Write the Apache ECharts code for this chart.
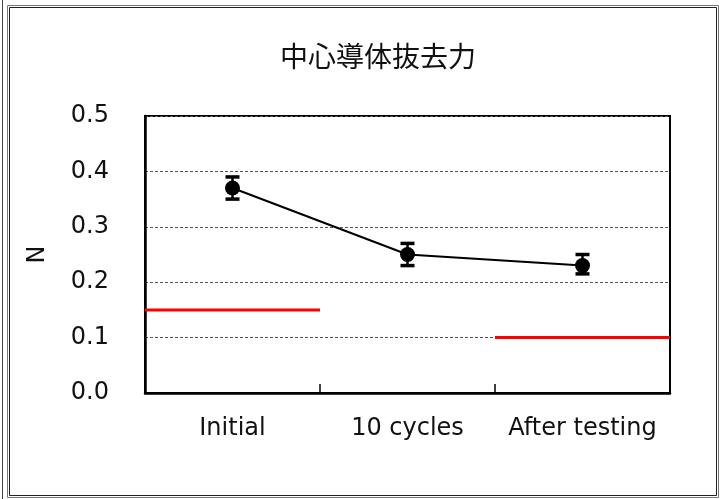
<!DOCTYPE html>
<html>
<head>
<meta charset="utf-8">
<script src="https://cdn.jsdelivr.net/npm/echarts@6/dist/echarts.min.js"></script>
<style>
html,body{margin:0;padding:0;background:#fff;}
#main{width:728px;height:499px;}
</style>
</head>
<body>
<div id="main"></div>
<script>
var categories = ['Initial', '10 cycles', 'After testing'];
var means = [0.37, 0.25, 0.23];
var errLow = [0.35, 0.23, 0.215];
var errHigh = [0.39, 0.27, 0.25];
var specInitial = [[0, 0.15], [1, 0.15]];
var specAfter = [[2, 0.10], [3, 0.10]];
var yTicks = ['0.0', '0.1', '0.2', '0.3', '0.4', '0.5'];

var chart = echarts.init(document.getElementById('main'));
var errData = categories.map(function (c, i) { return [i, errLow[i], errHigh[i]]; });

chart.setOption({
  animation: false,
  backgroundColor: '#fff',
  title: {
    text: '中心導体抜去力',
    left: 373, top: 37, textAlign: 'center',
    textStyle: { fontFamily: 'Noto Sans CJK JP', fontSize: 28, fontWeight: 'normal', color: '#111' }
  },
  graphic: [
    { type: 'rect', shape: { x: 7.5, y: 5.5, width: 711, height: 492 }, style: { fill: 'none', stroke: '#777', lineWidth: 1 } },
    { type: 'rect', shape: { x: 9.5, y: 7.5, width: 707, height: 488 }, style: { fill: 'none', stroke: '#222', lineWidth: 1 } },
    { type: 'line', shape: { x1: 2.5, y1: 0, x2: 2.5, y2: 499 }, style: { stroke: '#444', lineWidth: 1 } }
  ],
  grid: { left: 145, top: 116, width: 525, height: 277, show: true, borderColor: '#000', borderWidth: 2, backgroundColor: 'transparent' },
  xAxis: [
    {
      type: 'category', data: categories, boundaryGap: true,
      axisLine: { lineStyle: { color: '#000', width: 2.5 } },
      axisTick: { show: true, inside: true, interval: 0, length: 9, lineStyle: { color: '#000', width: 1.5 } },
      axisLabel: { interval: 0, hideOverlap: false, fontFamily: 'DejaVu Sans', fontSize: 24, color: '#111', margin: 24 }
    },
    { type: 'value', min: 0, max: 3, show: false }
  ],
  yAxis: {
    type: 'value', min: 0, max: 0.5, interval: 0.1,
    name: 'N', nameLocation: 'middle', nameGap: 95, nameRotate: 90,
    nameTextStyle: { fontFamily: 'DejaVu Sans', fontSize: 24, color: '#111' },
    axisLine: { show: true, lineStyle: { color: '#000', width: 2.5 } },
    axisTick: { show: false },
    axisLabel: {
      fontFamily: 'DejaVu Sans', fontSize: 24, color: '#111', margin: 36,
      formatter: function (v) { return yTicks[Math.round(v * 10)]; }
    },
    splitLine: { show: true, lineStyle: { color: '#555', type: [3, 2], width: 1 } }
  },
  series: [
    {
      type: 'line', xAxisIndex: 1, data: specInitial, symbol: 'none',
      lineStyle: { color: '#ff0000', width: 3 }, z: 3
    },
    {
      type: 'line', xAxisIndex: 1, data: specAfter, symbol: 'none',
      lineStyle: { color: '#ff0000', width: 3 }, z: 3
    },
    {
      type: 'custom', xAxisIndex: 0, data: errData, z: 4,
      renderItem: function (params, api) {
        var x = api.value(0);
        var lo = api.coord([x, api.value(1)]);
        var hi = api.coord([x, api.value(2)]);
        var hw = 7;
        var st = { stroke: '#000', lineWidth: 2.5 };
        return {
          type: 'group',
          children: [
            { type: 'line', shape: { x1: lo[0], y1: lo[1], x2: hi[0], y2: hi[1] }, style: st },
            { type: 'line', shape: { x1: lo[0] - hw, y1: lo[1], x2: lo[0] + hw, y2: lo[1] }, style: { stroke: '#000', lineWidth: 3.5 } },
            { type: 'line', shape: { x1: hi[0] - hw, y1: hi[1], x2: hi[0] + hw, y2: hi[1] }, style: { stroke: '#000', lineWidth: 3.5 } }
          ]
        };
      }
    },
    {
      type: 'line', xAxisIndex: 0, data: means, symbol: 'circle', symbolSize: 15,
      itemStyle: { color: '#000' }, lineStyle: { color: '#000', width: 2 }, z: 5
    }
  ]
});
</script>
</body>
</html>
